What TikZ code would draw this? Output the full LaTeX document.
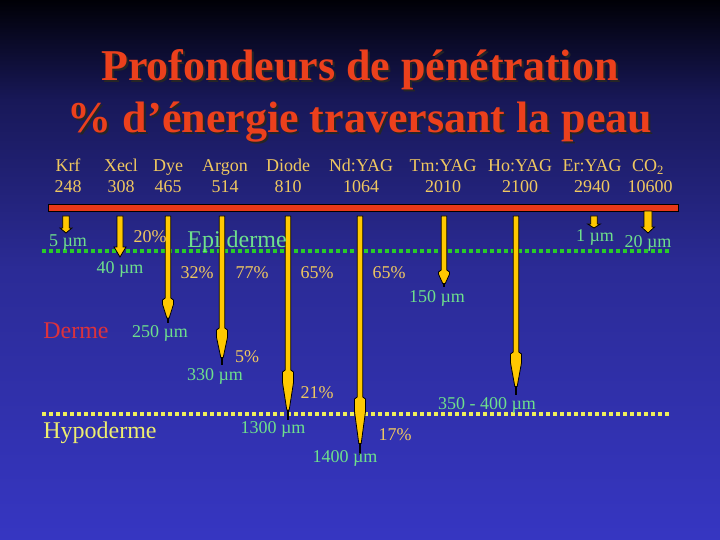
\documentclass[tikz,border=0pt]{standalone}
\usepackage{fontspec}
\setmainfont{Liberation Serif}
\usetikzlibrary{positioning}

\definecolor{bgtop}{RGB}{0,0,6}
\definecolor{bgup}{RGB}{24,24,88}
\definecolor{bgmid}{RGB}{43,43,150}
\definecolor{bgbot}{RGB}{54,54,194}
\definecolor{titlered}{RGB}{236,64,28}
\definecolor{gold}{RGB}{240,200,96}
\definecolor{mint}{RGB}{110,224,140}
\definecolor{dotgreen}{RGB}{40,204,40}
\definecolor{dotyellow}{RGB}{238,238,90}
\definecolor{dermered}{RGB}{220,50,60}
\definecolor{hypoyellow}{RGB}{238,238,110}
\definecolor{beam}{RGB}{255,200,0}
\definecolor{barred}{RGB}{232,56,24}

\pgfdeclareverticalshading{slidebg}{100bp}{color(0bp)=(bgbot); color(25bp)=(bgbot); color(50bp)=(bgmid); color(65.7bp)=(bgup); color(75bp)=(bgtop); color(100bp)=(bgtop)}

% long beam: x, top, head start, tip
\newcommand{\beamarrow}[4]{%
  \filldraw[beam, draw=black, line width=0.8pt]
    ({#1-2.8},#2) -- ({#1+2.8},#2) -- ({#1+2.8},#3) -- ({#1+5.5},{#3+2})
    -- ({#1+5.5},{#3+0.25*(#4-#3)}) -- ({#1+1.2},{#4-0.2*(#4-#3)})
    -- ({#1-1.2},{#4-0.2*(#4-#3)}) -- ({#1-5.5},{#3+0.25*(#4-#3)})
    -- ({#1-5.5},{#3+2}) -- ({#1-2.8},#3) -- cycle;
  \draw[black, line width=1.3pt] (#1,{#4-0.2*(#4-#3)}) -- (#1,#4);}
% short beam: x, top, head, tip, half shaft, half head
\newcommand{\stubarrow}[6]{%
  \filldraw[beam, draw=black, line width=0.8pt]
    ({#1-#5},#2) -- ({#1+#5},#2) -- ({#1+#5},#3) -- ({#1+#6},#3)
    -- (#1,#4) -- ({#1-#6},#3) -- ({#1-#5},#3) -- cycle;}

\begin{document}
\begin{tikzpicture}[
    x=1pt, y=-1pt,
    title/.style={font=\fontsize{44}{50}\bfseries, text=titlered, inner sep=0pt},
    shadow/.style={title, text=black!85},
    laser/.style={font=\fontsize{18}{20}\selectfont, text=gold, inner sep=0pt, anchor=base},
    depth/.style={font=\fontsize{18}{20}\selectfont, text=mint, inner sep=0pt},
    pct/.style={font=\fontsize{18}{20}\selectfont, text=gold, inner sep=0pt},
    layer/.style={font=\fontsize{24}{26}\selectfont, inner sep=0pt},
    boundary/.style={line width=4pt, dash pattern=on 4pt off 3pt}
  ]

  \shade[shading=slidebg] (0,0) rectangle (720,540);
  \useasboundingbox (0,0) rectangle (720,540);

  % title
  \node[shadow] at (362,72) {Profondeurs de pénétration};
  \node[title] (title1) at (360,70) {Profondeurs de pénétration};
  \node[shadow] at (362,124) {\% d’énergie traversant la peau};
  \node[title] (title2) at (360,122) {\% d’énergie traversant la peau};

  % lasers and wavelengths
  \foreach \x/\name/\nm/\id in {68/Krf/248/krf, 121/Xecl/308/xecl, 168/Dye/465/dye,
      225/Argon/514/argon, 288/Diode/810/diode, 361/Nd:YAG/1064/ndyag,
      443/Tm:YAG/2010/tmyag, 520/Ho:YAG/2100/hoyag, 592/Er:YAG/2940/eryag}{
    \node[laser] (\id) at (\x,172) {\name};
    \node[laser] (\id nm) at (\x,193) {\nm};
  }
  \node[laser] (co2) at (648,172) {CO\textsubscript{2}};
  \node[laser] (co2nm) at (650,193) {10600};

  % red bar
  \filldraw[barred, draw=black, line width=0.6pt] (48,204) rectangle (678,211);

  % skin boundaries
  \draw[boundary, dotgreen] (42,251) -- (670,251);
  \draw[boundary, dotyellow] (42,414) -- (670,414);

  % beams
  \stubarrow{66}{216}{228}{233}{3.3}{6}
  \stubarrow{120}{216}{247}{257}{3}{6}
  \beamarrow{168}{216}{298}{323}
  \beamarrow{222}{216}{328}{365}
  \beamarrow{288}{216}{370}{420}
  \beamarrow{360}{216}{397}{455}
  \beamarrow{444}{216}{270}{287}
  \beamarrow{516}{216}{352}{395}
  \stubarrow{594}{216}{224}{228}{3.3}{6.3}
  \stubarrow{648}{211}{227}{233}{4}{6.5}

  % layers
  \node[layer, text=mint] (epi) at (237,242) {Epi derme};
  \node[layer, text=dermered] (derme) at (76,331) {Derme};
  \node[layer, text=hypoyellow] (hypo) at (100,433) {Hypoderme};

  % depths
  \node[depth] (d5) at (68,243) {5 µm};
  \node[depth] (d40) at (120,269) {40 µm};
  \node[depth] (d150) at (437,298) {150 µm};
  \node[depth] (d1) at (595,237) {1 µm};
  \node[depth] (d20) at (648,243) {20 µm};
  \node[depth] (d250) at (160,333) {250 µm};
  \node[depth] (d330) at (215,376) {330 µm};
  \node[depth] (d1300) at (273,429) {1300 µm};
  \node[depth] (d1400) at (345,458) {1400 µm};
  \node[depth] (d350) at (487,405) {350 - 400 µm};

  % transmitted energy
  \node[pct] (p20) at (150,237) {20\%};
  \node[pct] (p32) at (197,273) {32\%};
  \node[pct] (p77) at (252,273) {77\%};
  \node[pct] (p65a) at (317,273) {65\%};
  \node[pct] (p65b) at (389,273) {65\%};
  \node[pct] (p5) at (247,357) {5\%};
  \node[pct] (p21) at (317,393) {21\%};
  \node[pct] (p17) at (395,435) {17\%};

\end{tikzpicture}
\end{document}
